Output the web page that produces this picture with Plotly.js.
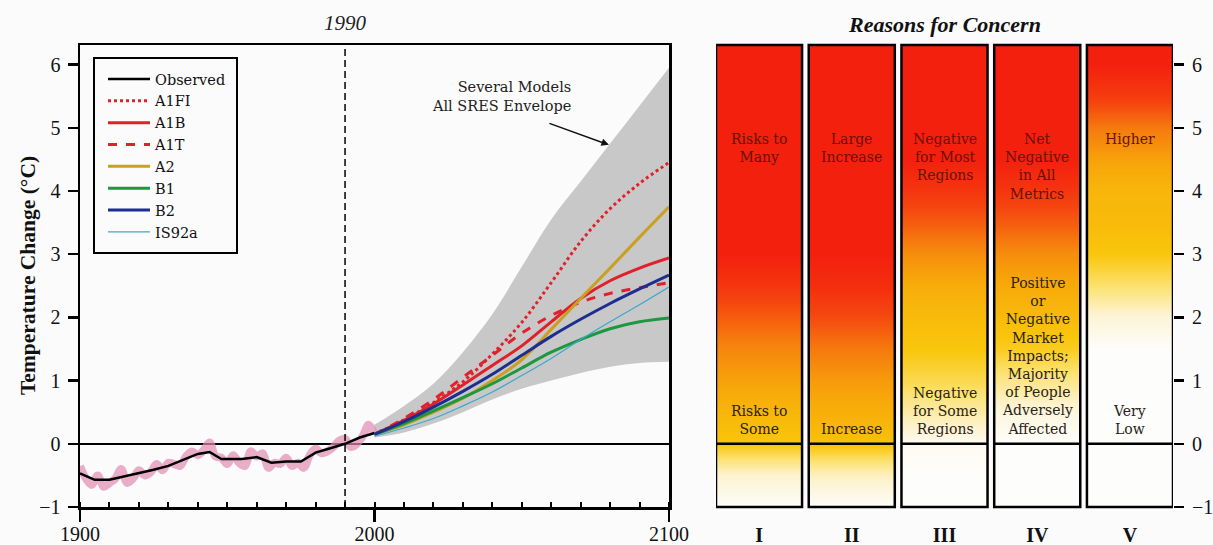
<!DOCTYPE html>
<html><head><meta charset="utf-8">
<script src="https://cdn.plot.ly/plotly-3.0.1.min.js"></script>
<style>html,body{margin:0;padding:0;background:#fbfbfb}</style>
</head><body><div id="chart" style="width:1213px;height:545px"></div>
<script>
// ---------- Observed record ----------
const obsYears = [1900,1905,1910,1915,1920,1925,1930,1935,1940,1944,1948,1955,1960,1965,1970,1975,1980,1985,1990,1995,2000];
const obsSmooth = [-0.47,-0.57,-0.57,-0.52,-0.47,-0.41,-0.35,-0.25,-0.16,-0.13,-0.24,-0.24,-0.21,-0.30,-0.28,-0.28,-0.14,-0.07,0.0,0.10,0.17];
const annYears = [1900,1902,1904,1906,1908,1910,1912,1914,1916,1918,1920,1922,1924,1926,1928,1930,1932,1934,1936,1938,1940,1942,1944,1946,1948,1950,1952,1954,1956,1958,1960,1962,1964,1966,1968,1970,1972,1974,1976,1978,1980,1982,1984,1986,1988,1990,1992,1994,1996,1998,2000];
const annValues = [-0.35,-0.55,-0.65,-0.50,-0.68,-0.62,-0.55,-0.40,-0.62,-0.55,-0.42,-0.50,-0.45,-0.32,-0.42,-0.30,-0.32,-0.35,-0.20,-0.12,-0.18,-0.10,0.02,-0.20,-0.22,-0.32,-0.18,-0.30,-0.35,-0.12,-0.20,-0.15,-0.38,-0.30,-0.32,-0.22,-0.35,-0.30,-0.38,-0.18,-0.08,-0.15,-0.12,-0.05,0.05,0.08,-0.05,0.00,0.12,0.30,0.15];

// ---------- Projections ----------
const projYears = [2000,2010,2020,2030,2040,2050,2060,2070,2080,2090,2100];
const envLower = [0.10,0.18,0.32,0.50,0.70,0.87,1.00,1.12,1.22,1.28,1.30];
const envUpper = [0.30,0.60,0.95,1.45,2.05,2.80,3.55,4.15,4.75,5.35,5.95];
const A1FI  = [0.15,0.38,0.65,0.98,1.42,1.92,2.55,3.20,3.72,4.12,4.45];
const A1B   = [0.15,0.37,0.63,0.93,1.24,1.55,1.93,2.30,2.58,2.78,2.94];
const A1T   = [0.15,0.40,0.70,1.05,1.40,1.75,2.03,2.24,2.38,2.47,2.55];
const A2    = [0.15,0.30,0.50,0.72,1.00,1.33,1.81,2.30,2.78,3.27,3.75];
const B1    = [0.15,0.32,0.52,0.73,0.95,1.20,1.45,1.65,1.82,1.93,1.99];
const B2    = [0.15,0.35,0.58,0.83,1.10,1.40,1.70,1.97,2.22,2.45,2.67];
const IS92a = [0.12,0.25,0.40,0.60,0.82,1.08,1.35,1.65,1.93,2.20,2.48];

// ---------- Reasons for concern (0 = none, 1 = high) ----------
const reasons = ['I','II','III','IV','V'];
const temps = [-1,-0.5,0,0.5,1,1.5,2,2.5,3,3.5,4,4.5,5,5.5,6,6.5];
const concernI   = [0,0.12,0.45,0.52,0.60,0.68,0.80,0.92,1,1,1,1,1,1,1,1];
const concernII  = [0,0.15,0.47,0.55,0.62,0.72,0.85,0.95,1,1,1,1,1,1,1,1];
const concernIII = [0,0,0.03,0.20,0.35,0.45,0.50,0.56,0.66,0.80,0.92,1,1,1,1,1];
const concernIV  = [0,0,0,0.08,0.25,0.42,0.50,0.57,0.66,0.80,0.92,1,1,1,1,1];
const concernV   = [0,0,0,0,0,0,0.10,0.30,0.45,0.50,0.52,0.60,0.72,0.90,1,1];
const upperLabels = ['Risks to<br>Many','Large<br>Increase','Negative<br>for Most<br>Regions','Net<br>Negative<br>in All<br>Metrics','Higher'];
const lowerLabels = ['Risks to<br>Some','Increase','Negative<br>for Some<br>Regions','Positive<br>or<br>Negative<br>Market<br>Impacts;<br>Majority<br>of People<br>Adversely<br>Affected','Very<br>Low'];

const FONT = "'Liberation Serif', 'Times New Roman', serif";
const WIDE = "'DejaVu Serif', 'Liberation Serif', serif";
const W = 1213, H = 545;
const yRange = [-1, 6.31];
const hw = 0.464;

const traces = [];
traces.push({x: projYears, y: envLower, mode:'lines', line:{width:0, color:'#c8c8c8', shape:'spline'}, showlegend:false, hoverinfo:'skip'});
traces.push({x: projYears, y: envUpper, mode:'lines', line:{width:0, color:'#c8c8c8', shape:'spline'}, fill:'tonexty', fillcolor:'#c8c8c8', showlegend:false, hoverinfo:'skip'});
traces.push({x: annYears, y: annValues, mode:'lines', line:{width:8, color:'rgba(226,140,178,0.7)', shape:'spline'}, showlegend:false, hoverinfo:'skip'});
traces.push({x: obsYears, y: obsSmooth, name:'Observed', mode:'lines', line:{width:2.5, color:'#000'}});
const series = [
  ['A1FI', A1FI, '#e0202a', 'dot', 3],
  ['A1B', A1B, '#e0202a', 'solid', 3],
  ['A1T', A1T, '#e0202a', 'dash', 3],
  ['A2', A2, '#c9a020', 'solid', 3],
  ['B1', B1, '#1d9840', 'solid', 3],
  ['B2', B2, '#1e2e90', 'solid', 3],
  ['IS92a', IS92a, '#3aa8cc', 'solid', 1.2]
];
series.forEach(s => traces.push({x: projYears, y: s[1], name: s[0], mode:'lines', line:{color:s[2], dash:s[3], width:s[4], shape:'spline'}}));

const colorscale = [[0,'#fdfdfb'],[0.12,'#fdf3d0'],[0.3,'#fce170'],[0.45,'#f9c60c'],[0.58,'#f7a80a'],[0.72,'#f67a0e'],[0.86,'#f5460f'],[1,'#f4200e']];
const concerns = [concernI, concernII, concernIII, concernIV, concernV];
concerns.forEach((c, i) => {
  traces.push({type:'heatmap', xaxis:'x2', yaxis:'y2', x:[i-hw/2, i+hw/2], y: temps,
    z: c.map(v => [v, v]), zmin:0, zmax:1, zsmooth:'best', colorscale, showscale:false, hoverinfo:'skip', showlegend:false});
});

const shapes = [
  {type:'line', xref:'x', yref:'y domain', x0:1990, x1:1990, y0:0, y1:1, line:{color:'#000', width:1.5, dash:'7px,4px'}},
  // legend frame
  {type:'rect', xref:'paper', yref:'paper', x0:94/W, x1:237/W, y0:1-253/H, y1:1-58/H, line:{color:'#000', width:2}, fillcolor:'#fbfbfb', layer:'above'}
];
reasons.forEach((r, i) => {
  shapes.push({type:'rect', xref:'x2', yref:'y2 domain', x0:i-hw, x1:i+hw, y0:0, y1:1, line:{color:'#000', width:2.5}, layer:'above'});
  shapes.push({type:'line', xref:'x2', yref:'y2', x0:i-hw, x1:i+hw, y0:0, y1:0, line:{color:'#000', width:2.5}, layer:'above'});
});

const annotations = [
  {text:'<i>1990</i>', xref:'x', x:1990, yref:'paper', y:1-23/H, yanchor:'middle', showarrow:false, font:{family:FONT, size:21, color:'#222'}},
  {text:'<b><i>Reasons for Concern</i></b>', xref:'x2', x:2, yref:'paper', y:1-25/H, yanchor:'middle', showarrow:false, font:{family:FONT, size:22, color:'#111'}},
  {text:'Several Models<br>All SRES Envelope', xref:'paper', x:573/W, xanchor:'right', yref:'paper', y:1-97/H, yanchor:'middle', align:'right', showarrow:false, font:{family:WIDE, size:14.5, color:'#222'}},
  {text:'', xref:'x', x:2079.6, yref:'y', y:4.73, ax:-61, ay:-22, showarrow:true, arrowhead:2, arrowsize:1, arrowwidth:1.5, arrowcolor:'#111', standoff:0},
  {text:'<b>Temperature Change (°C)</b>', textangle:-90, xref:'paper', x:28/W, xanchor:'center', yref:'paper', y:1-276/H, yanchor:'middle', showarrow:false, font:{family:FONT, size:21.5, color:'#111'}}
];
reasons.forEach((r, i) => {
  annotations.push({text: upperLabels[i], xref:'x2', x:i, yref:'y2', y:4.98, yanchor:'top', showarrow:false, font:{family:WIDE, size:14, color:'#6a1208'}});
  annotations.push({text: lowerLabels[i], xref:'x2', x:i, yref:'y2', y:0.08, yanchor:'bottom', showarrow:false, font:{family:WIDE, size:14, color:'#2a2218'}});
});

const layout = {
  width: W, height: H,
  margin:{l:0, r:0, t:0, b:0},
  paper_bgcolor:'#fbfbfb', plot_bgcolor:'#fbfbfb',
  font:{family:FONT, color:'#111'},
  showlegend:true,
  legend:{x:103/W, y:1-63/H, xanchor:'left', yanchor:'top', traceorder:'normal', bgcolor:'rgba(0,0,0,0)', borderwidth:0,
    itemwidth:42, font:{family:WIDE, size:14.5, color:'#111'}},
  xaxis:{domain:[80/W, 669/W], range:[1900,2100], anchor:'y', showline:true, mirror:true, linewidth:2.5, linecolor:'#000',
    ticks:'outside', ticklen:12, tickwidth:2.5, tickcolor:'#000', tick0:1900, dtick:100,
    minor:{ticks:'inside', dtick:10, ticklen:5, tickwidth:2, tickcolor:'#000'},
    showgrid:false, zeroline:false, tickfont:{family:FONT, size:20, color:'#111'}, ticklabelstandoff:-5},
  yaxis:{domain:[1-507/H, 1-45/H], range:yRange, anchor:'x', showline:true, mirror:true, linewidth:2.5, linecolor:'#000',
    ticks:'outside', ticklen:10, tickwidth:2.5, tickcolor:'#000', dtick:1, showgrid:false,
    zeroline:true, zerolinecolor:'#000', zerolinewidth:2.5, tickfont:{family:FONT, size:20, color:'#111'}, ticklabelstandoff:3},
  xaxis2:{domain:[716/W, 1173/W], range:[-hw, 4+hw], anchor:'y2', showline:false, showgrid:false, zeroline:false,
    tickvals:[0,1,2,3,4], ticktext:reasons, ticks:'', tickfont:{family:FONT, size:20, color:'#111', weight:'bold'}, ticklabelstandoff:14},
  yaxis2:{domain:[1-507/H, 1-45/H], range:yRange, anchor:'x2', side:'right', showline:false, showgrid:false, zeroline:false,
    ticks:'outside', ticklen:10, tickwidth:2.5, tickcolor:'#000', dtick:1, tickfont:{family:FONT, size:20, color:'#111'}, ticklabelstandoff:4},
  shapes, annotations
};

Plotly.newPlot('chart', traces, layout, {displayModeBar:false, staticPlot:true});
</script>
</body></html>
